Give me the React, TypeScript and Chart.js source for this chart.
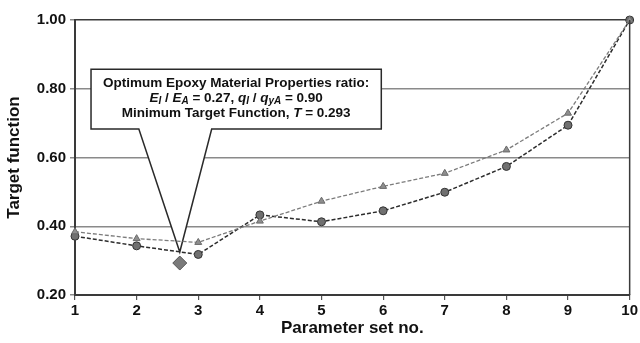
import React, { useEffect, useRef } from "react";
import { Chart, registerables } from "chart.js";

Chart.register(...registerables);

const paramSets = [1, 2, 3, 4, 5, 6, 7, 8, 9, 10];
const circleValues = [0.371, 0.343, 0.318, 0.433, 0.413, 0.445, 0.499, 0.574, 0.694, 1.0];
const triangleValues = [0.384, 0.364, 0.353, 0.415, 0.473, 0.516, 0.554, 0.622, 0.729, 1.0];
const optimumX = [2.7];
const optimumY = [0.293];
const yTicks = [0.2, 0.4, 0.6, 0.8, 1.0];

// callout geometry expressed in axis units
const calloutTip = { x: 2.7, y: 0.325 };
const calloutBox = { x0: 1.26, x1: 5.97, yTop: 0.857, yBottom: 0.683 };
const calloutBase = [2.036, 3.218];

const FONT = "'Liberation Sans', Arial, sans-serif";

type Seg = { t: string; it?: boolean; sub?: boolean };
const line1: Seg[] = [{ t: "Optimum Epoxy Material Properties ratio:" }];
const line2: Seg[] = [
  { t: "E", it: true },
  { t: "I", it: true, sub: true },
  { t: " / " },
  { t: "E", it: true },
  { t: "A", it: true, sub: true },
  { t: " = 0.27, " },
  { t: "q", it: true },
  { t: "I", it: true, sub: true },
  { t: " / " },
  { t: "q", it: true },
  { t: "yA", it: true, sub: true },
  { t: " = 0.90" },
];
const line3: Seg[] = [
  { t: "Minimum Target Function, " },
  { t: "T", it: true },
  { t: " = 0.293" },
];

function segFont(s: Seg) {
  const size = s.sub ? 10 : 13.5;
  return `${s.it ? "italic " : ""}bold ${size}px ${FONT}`;
}

function drawRich(ctx: CanvasRenderingContext2D, segs: Seg[], cx: number, cy: number) {
  let total = 0;
  for (const s of segs) {
    ctx.font = segFont(s);
    total += ctx.measureText(s.t).width;
  }
  let x = cx - total / 2;
  ctx.textBaseline = "middle";
  ctx.textAlign = "left";
  for (const s of segs) {
    ctx.font = segFont(s);
    ctx.fillText(s.t, x, s.sub ? cy + 3.5 : cy);
    x += ctx.measureText(s.t).width;
  }
}

const calloutPlugin = {
  id: "callout",
  beforeDatasetsDraw(chart: any) {
    const { ctx, scales } = chart;
    const xs = scales.x;
    const ys = scales.y;
    const left = xs.getPixelForValue(calloutBox.x0);
    const right = xs.getPixelForValue(calloutBox.x1);
    const top = ys.getPixelForValue(calloutBox.yTop);
    const bottom = ys.getPixelForValue(calloutBox.yBottom);
    const b0 = xs.getPixelForValue(calloutBase[0]);
    const b1 = xs.getPixelForValue(calloutBase[1]);
    const tx = xs.getPixelForValue(calloutTip.x);
    const ty = ys.getPixelForValue(calloutTip.y);
    ctx.save();
    ctx.beginPath();
    ctx.moveTo(left, top);
    ctx.lineTo(right, top);
    ctx.lineTo(right, bottom);
    ctx.lineTo(b1, bottom);
    ctx.lineTo(tx, ty);
    ctx.lineTo(b0, bottom);
    ctx.lineTo(left, bottom);
    ctx.closePath();
    ctx.fillStyle = "#ffffff";
    ctx.fill();
    ctx.strokeStyle = "#2a2a2a";
    ctx.lineWidth = 1.5;
    ctx.lineJoin = "miter";
    ctx.stroke();
    ctx.fillStyle = "#111111";
    const cx = (left + right) / 2;
    drawRich(ctx, line1, cx, top + 14);
    drawRich(ctx, line2, cx, top + 29);
    drawRich(ctx, line3, cx, top + 44);
    ctx.restore();
  },
  afterDatasetsDraw(chart: any) {
    const { ctx, chartArea } = chart;
    ctx.save();
    ctx.strokeStyle = "#3a3a3a";
    ctx.lineWidth = 1.5;
    ctx.beginPath();
    ctx.moveTo(chartArea.right, chartArea.top);
    ctx.lineTo(chartArea.right, chartArea.bottom);
    ctx.stroke();
    ctx.restore();
  },
};

export default function App() {
  const ref = useRef<HTMLCanvasElement | null>(null);
  useEffect(() => {
    document.body.style.margin = "0";
    const canvas = ref.current!;
    const chart = new Chart(canvas, {
      type: "line",
      data: {
        datasets: [
          {
            label: "triangles",
            data: paramSets.map((x, i) => ({ x, y: triangleValues[i] })),
            borderColor: "#7c7c7c",
            borderWidth: 1.3,
            borderDash: [4, 2],
            pointStyle: "triangle",
            pointRadius: 4,
            pointBackgroundColor: "#8e8e8e",
            pointBorderColor: "#6a6a6a",
            pointBorderWidth: 1,
            tension: 0,
          },
          {
            label: "circles",
            data: paramSets.map((x, i) => ({ x, y: circleValues[i] })),
            borderColor: "#2c2c2c",
            borderWidth: 1.5,
            borderDash: [4, 2],
            pointStyle: "circle",
            pointRadius: 4,
            pointBackgroundColor: "#707070",
            pointBorderColor: "#333333",
            pointBorderWidth: 1,
            tension: 0,
          },
          {
            label: "optimum",
            data: optimumX.map((x, i) => ({ x, y: optimumY[i] })),
            showLine: false,
            pointStyle: "rectRot",
            pointRadius: 7,
            pointBackgroundColor: "#7a7a7a",
            pointBorderColor: "#555555",
            pointBorderWidth: 1,
          },
        ],
      },
      options: {
        animation: false,
        responsive: true,
        maintainAspectRatio: false,
        clip: false,
        layout: { padding: { top: 20, right: 9, left: 0, bottom: 0 } },
        plugins: { legend: { display: false }, tooltip: { enabled: false } },
        scales: {
          x: {
            type: "linear",
            min: 1,
            max: 10,
            afterFit: (s: any) => {
              s.height = 48;
            },
            afterBuildTicks: (s: any) => {
              s.ticks = paramSets.map((v) => ({ value: v }));
            },
            ticks: {
              font: { family: FONT, size: 15, weight: "bold" },
              color: "#111",
              padding: 2,
              maxRotation: 0,
              callback: (v: any) => String(v),
            },
            grid: {
              drawOnChartArea: false,
              drawTicks: true,
              tickLength: 5,
              tickColor: "#555",
              lineWidth: 1.2,
            },
            border: { color: "#3a3a3a", width: 2 },
            title: {
              display: true,
              text: "Parameter set no.",
              font: { family: FONT, size: 17, weight: "bold" },
              color: "#111",
              padding: { top: 0, bottom: 4 },
            },
          },
          y: {
            type: "linear",
            min: 0.2,
            max: 1.0,
            afterFit: (s: any) => {
              s.width = 75;
            },
            afterBuildTicks: (s: any) => {
              s.ticks = yTicks.map((v) => ({ value: v }));
            },
            ticks: {
              font: { family: FONT, size: 15, weight: "bold" },
              color: "#111",
              padding: 4,
              callback: (v: any) => Number(v).toFixed(2),
            },
            grid: {
              color: (c: any) => (c.tick && c.tick.value >= 0.999 ? "#3a3a3a" : "#8a8a8a"),
              lineWidth: (c: any) => (c.tick && c.tick.value >= 0.999 ? 1.5 : 1.5),
              tickLength: 5,
              tickColor: "#8a8a8a",
            },
            border: { color: "#3a3a3a", width: 2 },
            title: {
              display: true,
              text: "Target function",
              font: { family: FONT, size: 17, weight: "bold" },
              color: "#111",
              padding: { top: 4, bottom: 0 },
            },
          },
        },
      } as any,
      plugins: [calloutPlugin],
    });
    return () => chart.destroy();
  }, []);
  return (
    <div style={{ position: "absolute", left: 0, top: 0, width: 640, height: 343 }}>
      <canvas ref={ref} />
    </div>
  );
}
